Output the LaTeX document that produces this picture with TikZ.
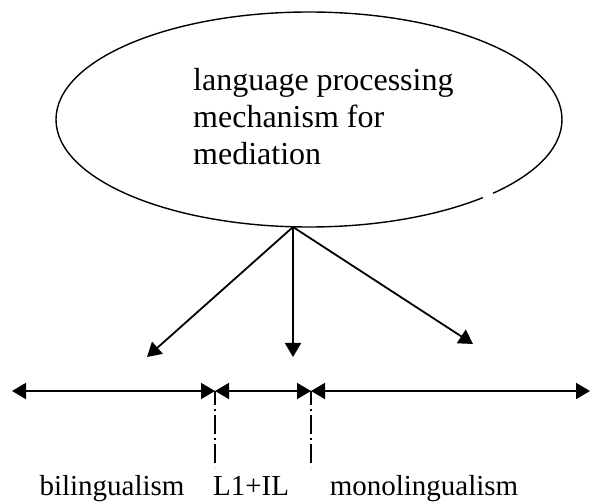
\documentclass[tikz,border=0pt]{standalone}
\usepackage{fontspec}
\setmainfont{Liberation Serif}
\usetikzlibrary{arrows.meta,shapes.geometric}
\tikzset{
  conn/.style={line width=1.8pt,-{Triangle[length=14pt,width=16pt]}},
  span/.style={line width=1.8pt,{Triangle[length=14pt,width=16pt]}-{Triangle[length=14pt,width=16pt]}},
  tick/.style={line width=1.1pt,dash pattern=on 19pt off 4pt on 2pt off 4pt,dash phase=5pt},
  lbl/.style={font=\fontsize{29}{34}\selectfont,anchor=base,inner sep=0pt}
}
\begin{document}
\begin{tikzpicture}[x=1pt,y=-1pt]
\useasboundingbox (0,0) rectangle (594,502);
\node[ellipse,draw,line width=1.4pt,minimum width=506pt,minimum height=215pt,inner sep=0pt] (mech) at (309,119.5) {};
\draw[white,line width=3.5pt] (483,197.6) -- (493,193.3);
\node[anchor=north west,align=left,inner sep=0pt,font=\fontsize{32}{37}\selectfont] (txt) at (193,68) {language processing\\mechanism for\\mediation};
\coordinate (o) at (293,227);
\coordinate (tl) at (147,357);
\coordinate (tm) at (293,357);
\coordinate (tr) at (473,344);
\draw[conn] (o) -- (tl);
\draw[conn] (o) -- (tm);
\draw[conn] (o) -- (tr);
\coordinate (h0) at (12,391);
\coordinate (h1) at (215,391);
\coordinate (h2) at (311,391);
\coordinate (h3) at (590,391);
\draw[span] (h0) -- (h1);
\draw[span] (h1) -- (h2);
\draw[span] (h2) -- (h3);
\coordinate (v1) at (215,467);
\coordinate (v2) at (311,467);
\draw[tick] (h1) -- (v1);
\draw[tick] (h2) -- (v2);
\node[lbl] (bi) at (112,495) {bilingualism};
\node[lbl] (l1) at (251,495) {L1+IL};
\node[lbl] (mono) at (424,495) {monolingualism};
\end{tikzpicture}
\end{document}
